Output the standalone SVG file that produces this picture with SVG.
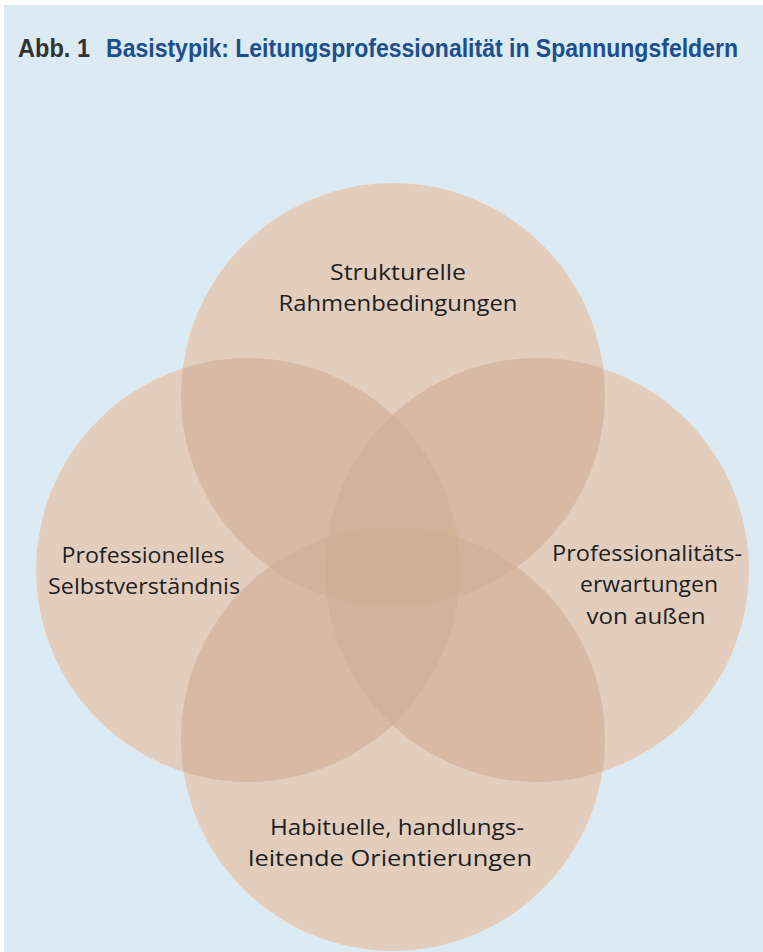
<svg xmlns="http://www.w3.org/2000/svg" width="763" height="952" viewBox="0 0 763 952">
<style>
.lbl{font-family:"Open Sans","Liberation Sans",sans-serif;font-size:22px;fill:#1e1e1e;text-anchor:middle}
.ttl{font-family:"Liberation Sans",Arial,sans-serif;font-size:18px;font-weight:bold}
.base{fill:#ffffff}
.c{fill:#d1ad92;fill-opacity:0.6}
</style>
<rect x="0" y="0" width="763" height="952" fill="#ffffff"/>
<rect x="4" y="5" width="759" height="947" fill="#dcebf3"/>
<g id="title">
<text class="ttl" transform="translate(18,57) scale(1,1.4)" x="0" y="0" fill="#333333" textLength="72" lengthAdjust="spacingAndGlyphs">Abb. 1</text>
<text class="ttl" transform="translate(106,57) scale(1,1.4)" x="0" y="0" fill="#1b4f8e" textLength="632" lengthAdjust="spacingAndGlyphs">Basistypik: Leitungsprofessionalität in Spannungsfeldern</text>
</g>
<g id="base">
<circle class="base" cx="393" cy="395" r="212"/>
<circle class="base" cx="248" cy="570" r="212"/>
<circle class="base" cx="537" cy="570" r="212"/>
<circle class="base" cx="393" cy="739" r="212"/>
</g>
<g id="node-top">
<circle class="c" cx="393" cy="395" r="212"/>
</g>
<g id="node-left">
<circle class="c" cx="248" cy="570" r="212"/>
</g>
<g id="node-right">
<circle class="c" cx="537" cy="570" r="212"/>
</g>
<g id="node-bottom">
<circle class="c" cx="393" cy="739" r="212"/>
</g>
<g id="connectors"></g>
<g id="labels">
<text class="lbl" x="398" y="280" textLength="136" lengthAdjust="spacingAndGlyphs">Strukturelle</text>
<text class="lbl" x="398" y="311" textLength="239" lengthAdjust="spacingAndGlyphs">Rahmenbedingungen</text>
<text class="lbl" x="143" y="563" textLength="163" lengthAdjust="spacingAndGlyphs">Professionelles</text>
<text class="lbl" x="144" y="594" textLength="192" lengthAdjust="spacingAndGlyphs">Selbstverständnis</text>
<text class="lbl" x="647" y="561" textLength="190" lengthAdjust="spacingAndGlyphs">Professionalitäts-</text>
<text class="lbl" x="649" y="592" textLength="138" lengthAdjust="spacingAndGlyphs">erwartungen</text>
<text class="lbl" x="646" y="624" textLength="119" lengthAdjust="spacingAndGlyphs">von außen</text>
<text class="lbl" x="397" y="835" textLength="254" lengthAdjust="spacingAndGlyphs">Habituelle, handlungs-</text>
<text class="lbl" x="390" y="866" textLength="284" lengthAdjust="spacingAndGlyphs">leitende Orientierungen</text>
</g>
</svg>
